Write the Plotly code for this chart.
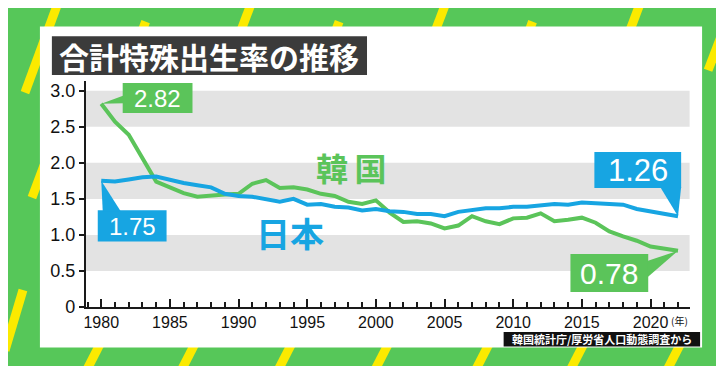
import plotly.graph_objects as go

# ---------------- data ----------------
years = list(range(1980, 2023))
korea = [2.82, 2.57, 2.39, 2.06, 1.74, 1.66, 1.58, 1.53, 1.55, 1.56,
         1.57, 1.71, 1.76, 1.65, 1.66, 1.63, 1.57, 1.54, 1.46, 1.43,
         1.48, 1.31, 1.18, 1.19, 1.16, 1.09, 1.13, 1.26, 1.19, 1.15,
         1.23, 1.24, 1.30, 1.19, 1.21, 1.24, 1.17, 1.05, 0.98, 0.92,
         0.84, 0.81, 0.78]
japan = [1.75, 1.74, 1.77, 1.80, 1.81, 1.76, 1.72, 1.69, 1.66, 1.57,
         1.54, 1.53, 1.50, 1.46, 1.50, 1.42, 1.43, 1.39, 1.38, 1.34,
         1.36, 1.33, 1.32, 1.29, 1.29, 1.26, 1.32, 1.34, 1.37, 1.37,
         1.39, 1.39, 1.41, 1.43, 1.42, 1.45, 1.44, 1.43, 1.42, 1.36,
         1.33, 1.30, 1.26]
y_tickvals = [0, 0.5, 1.0, 1.5, 2.0, 2.5, 3.0]
y_ticktext = ["0", "0.5", "1.0", "1.5", "2.0", "2.5", "3.0"]
x_tickvals = list(range(1980, 2021, 5))
x_ticktext = [str(v) for v in x_tickvals]
band_ranges = [(0.5, 1.0), (1.5, 2.0), (2.5, 3.0)]
title_text = "合計特殊出生率の推移"
source_text = "韓国統計庁/厚労省人口動態調査から"
korea_name = "韓\u2009国"
japan_name = "日本"

# ---------------- styling ----------------
W, H = 724, 366
GREEN_BG = "#56c759"
GREEN = "#5bc45a"
BLUE = "#17a5e2"
YELLOW = "#fbea00"
BAND = "#e3e3e3"
NUM_FONT = "Liberation Sans, Arial, sans-serif"
CJK_FONT = "Noto Sans CJK JP, sans-serif"

X0PX, X1PX = 76.0, 681.5
XR = [1978.874, 2022.846]
YBOT, YTOP = 307.5, 75.0
YR = [0, 3.135]


def px(x):
    return x / W


def py(y):
    return 1 - y / H


def data_x(year):
    return X0PX + (year - XR[0]) / (XR[1] - XR[0]) * (X1PX - X0PX)


def data_y(v):
    return YBOT - (v - YR[0]) / (YR[1] - YR[0]) * (YBOT - YTOP)


fig = go.Figure()
fig.add_trace(go.Scatter(x=years, y=korea, mode="lines", name="韓国",
                         line=dict(color=GREEN, width=4), hoverinfo="skip"))
fig.add_trace(go.Scatter(x=years, y=japan, mode="lines", name="日本",
                         line=dict(color=BLUE, width=4), hoverinfo="skip"))

shapes = []

# yellow decorative dashes (pixel coords: bottom point, top point)
dashes = [
    ((15, 87), (48, -5)), ((208, 87), (242, -5)), ((403, 87), (437, -5)),
    ((598, 87), (632, -5)),
    ((103, 105), (136, 14)), ((297, 105), (330, 14)), ((491, 105), (524, 14)),
    ((700, 64), (718, 16)),
    ((22, 195), (55, 105)), ((712, 169), (730, 122)), ((715, 292), (734, 240)),
    ((-5, 352), (13, 290)),
]
for bx in [85, 180, 277, 374, 475, 570, 667]:
    dashes.append(((bx - 8, 372), (bx + 8, 340)))
for (a, b) in dashes:
    shapes.append(dict(type="line", xref="paper", yref="paper",
                       x0=px(a[0]), y0=py(a[1]), x1=px(b[0]), y1=py(b[1]),
                       line=dict(color=YELLOW, width=9), layer="below"))

# white panel
shapes.append(dict(type="rect", xref="paper", yref="paper",
                   x0=px(30), x1=px(694), y0=py(349), y1=py(19),
                   fillcolor="white", line=dict(width=0), layer="below"))
# title box
shapes.append(dict(type="rect", xref="paper", yref="paper",
                   x0=px(42), x1=px(358), y0=py(69), y1=py(29),
                   fillcolor="#3b3b3b", line=dict(width=0), layer="below"))
# source box
shapes.append(dict(type="rect", xref="paper", yref="paper",
                   x0=px(495), x1=px(692), y0=py(348), y1=py(333),
                   fillcolor="#111111", line=dict(width=0), layer="below"))
# gray bands
for lo, hi in band_ranges:
    shapes.append(dict(type="rect", xref="x domain", yref="y",
                       x0=0, x1=1, y0=lo, y1=hi,
                       fillcolor=BAND, line=dict(width=0), layer="below"))


def callout(box, base, tip_year, tip_val, color):
    x0, y0, x1, y1 = box
    shapes.append(dict(type="rect", xref="paper", yref="paper",
                       x0=px(x0), x1=px(x1), y0=py(y1), y1=py(y0),
                       fillcolor=color, line=dict(width=0), layer="above"))
    tx, ty = data_x(tip_year), data_y(tip_val)
    (ax_, ay_), (bx_, by_) = base
    path = (f"M {px(ax_)},{py(ay_)} L {px(bx_)},{py(by_)} "
            f"L {px(tx)},{py(ty)} Z")
    shapes.append(dict(type="path", xref="paper", yref="paper", path=path,
                       fillcolor=color, line=dict(width=0), layer="above"))


callout((113, 77, 183, 108), ((114, 90), (114, 98)), years[0], korea[0], GREEN)
callout((88, 208, 157, 240), ((93, 209), (111, 209)), years[0], japan[0], BLUE)
callout((586, 148, 673, 185), ((652, 184), (673, 184)), years[-1], japan[-1], BLUE)
callout((562, 253, 640, 292), ((639, 260), (639, 277)), years[-1], korea[-1], GREEN)

annotations = []


def text(x, y, s, size, color, family=NUM_FONT, weight=400, xanchor="center"):
    annotations.append(dict(x=px(x), y=py(y), xref="paper", yref="paper",
                            text=s, showarrow=False, xanchor=xanchor,
                            yanchor="middle",
                            font=dict(size=size, color=color, family=family,
                                      weight=weight)))


text(200, 49, title_text, 30, "white", CJK_FONT, 700)
text(593.5, 340.5, source_text, 11, "white", CJK_FONT, 700)
text(148, 93, f"{korea[0]:.2f}", 24, "white")
text(122.5, 224.5, f"{japan[0]:.2f}", 24, "white")
text(629.5, 167, f"{japan[-1]:.2f}", 31, "white")
text(601, 273, f"{korea[-1]:.2f}", 30, "white")
text(342, 163, korea_name, 32, GREEN, CJK_FONT, 700)
text(281, 231, japan_name, 34, BLUE, CJK_FONT, 700)
text(661, 321, "(年)", 10, "#111111", CJK_FONT, 400, xanchor="left")

fig.update_layout(
    width=W, height=H,
    margin=dict(l=0, r=0, t=0, b=0),
    paper_bgcolor=GREEN_BG,
    plot_bgcolor="rgba(0,0,0,0)",
    showlegend=False,
    shapes=shapes,
    annotations=annotations,
    xaxis=dict(domain=[px(X0PX), px(X1PX)], range=XR, showgrid=False,
               zeroline=False, showline=True, linecolor="#1a1a1a",
               linewidth=2, tickmode="array", tickvals=x_tickvals,
               ticktext=x_ticktext, ticks="inside", ticklen=8,
               tickwidth=1.5, tickcolor="#1a1a1a",
               minor=dict(dtick=1, tick0=1980, ticks="inside", ticklen=5,
                          tickwidth=1.5, tickcolor="#1a1a1a", showgrid=False),
               tickfont=dict(size=16, color="#111111", family=NUM_FONT),
               fixedrange=True),
    yaxis=dict(domain=[py(YBOT), py(YTOP)], range=YR, showgrid=False,
               zeroline=False, showline=True, linecolor="#1a1a1a",
               linewidth=2, tickmode="array", tickvals=y_tickvals,
               ticktext=y_ticktext, ticks="outside", ticklen=5,
               tickwidth=1.5, tickcolor="#1a1a1a",
               tickfont=dict(size=18, color="#111111", family=NUM_FONT),
               fixedrange=True),
)

fig.write_html("out.html")
